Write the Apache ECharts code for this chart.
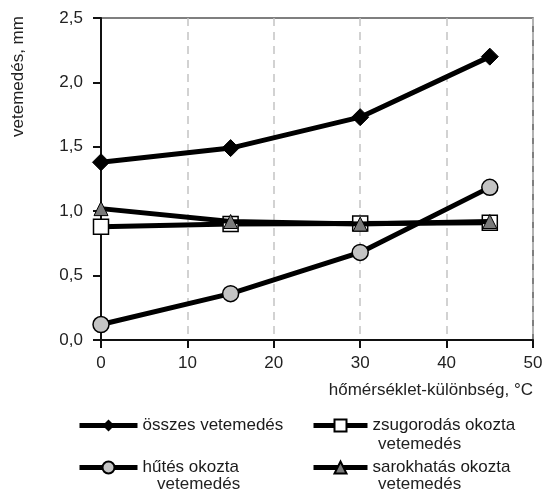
<!DOCTYPE html>
<html><head><meta charset="utf-8">
<script src="https://cdn.jsdelivr.net/npm/echarts@6/dist/echarts.min.js"></script>
<style>html,body{margin:0;padding:0;background:#fff}#c{width:554px;height:492px}</style>
</head><body><div id="c"></div>
<script>
const xValues = [0, 15, 30, 45];
const osszes = [1.38, 1.49, 1.73, 2.20];
const zsugorodas = [0.88, 0.90, 0.905, 0.91];
const hutes = [0.12, 0.36, 0.68, 1.185];
const sarok = [1.02, 0.92, 0.90, 0.92];
const yTicks = [0, 0.5, 1.0, 1.5, 2.0, 2.5];
const xTicks = [0, 10, 20, 30, 40, 50];
const seriesNames = ['összes vetemedés', 'zsugorodás okozta vetemedés', 'hűtés okozta vetemedés', 'sarokhatás okozta vetemedés'];

const FONT = 'Liberation Sans, Arial, sans-serif';
const FS = 17;
const pairs = arr => xValues.map((x, i) => [x, arr[i]]);
const chart = echarts.init(document.getElementById('c'));
const legendBase = {
  orient: 'vertical', padding: 0, itemWidth: 58, itemHeight: 15,
  lineStyle: { width: 5 },
  textStyle: { fontSize: FS, fontFamily: FONT, color: '#1a1a1a' },
  formatter: n => n.replace(' vetemedés', '').replace('összes', 'összes vetemedés')
};
chart.setOption({
  animation: false,
  backgroundColor: '#fff',
  grid: { left: 101, right: 21, top: 18, bottom: 152, show: true, borderColor: '#555', borderWidth: 1.5 },
  xAxis: {
    type: 'value', min: xTicks[0], max: xTicks[xTicks.length - 1], interval: 10,
    axisLine: { lineStyle: { color: '#111', width: 2 } },
    axisTick: { length: 8, lineStyle: { color: '#111', width: 2 } },
    axisLabel: { fontSize: FS, fontFamily: FONT, color: '#222', margin: 15 },
    splitLine: { show: true, lineStyle: { color: '#c4c4c4', type: [8, 6], width: 1.5 } }
  },
  yAxis: {
    type: 'value', min: yTicks[0], max: yTicks[yTicks.length - 1], interval: 0.5,
    axisLine: { show: true, lineStyle: { color: '#111', width: 2 } },
    axisTick: { show: true, length: 8, lineStyle: { color: '#111', width: 2 } },
    axisLabel: { fontSize: FS, fontFamily: FONT, color: '#222', margin: 18,
      formatter: v => v.toFixed(1).replace('.', ',') },
    splitLine: { show: false }
  },
  legend: [
    Object.assign({}, legendBase, { left: 77, top: 417, data: [seriesNames[0]] }),
    Object.assign({}, legendBase, { left: 311, top: 417, itemWidth: 54, data: [seriesNames[1]] }),
    Object.assign({}, legendBase, { left: 77, top: 459, data: [seriesNames[2]] }),
    Object.assign({}, legendBase, { left: 311, top: 459, itemWidth: 54, data: [seriesNames[3]] })
  ],
  graphic: [
    { type: 'text', rotation: Math.PI / 2, x: 10, y: 137, style: { text: 'vetemedés, mm', fontSize: FS, fontFamily: FONT, fill: '#222' } },
    { type: 'text', right: 21, top: 382, style: { text: 'hőmérséklet-különbség, °C', fontSize: FS, fontFamily: FONT, fill: '#222' } },
    { type: 'text', left: 378, top: 436, style: { text: 'vetemedés', fontSize: FS, fontFamily: FONT, fill: '#222' } },
    { type: 'text', left: 157, top: 476, style: { text: 'vetemedés', fontSize: FS, fontFamily: FONT, fill: '#222' } },
    { type: 'text', left: 378, top: 476, style: { text: 'vetemedés', fontSize: FS, fontFamily: FONT, fill: '#222' } }
  ],
  series: [
    { name: seriesNames[0], type: 'line', data: pairs(osszes), symbol: 'diamond', symbolSize: 17,
      lineStyle: { color: '#000', width: 5 }, itemStyle: { color: '#000', borderColor: '#000' }, z: 5 },
    { name: seriesNames[1], type: 'line', data: pairs(zsugorodas), symbol: 'rect', symbolSize: 15,
      lineStyle: { color: '#000', width: 5 }, itemStyle: { color: '#fff', borderColor: '#000', borderWidth: 1.5 }, z: 3 },
    { name: seriesNames[2], type: 'line', data: pairs(hutes), symbol: 'circle', symbolSize: 16,
      lineStyle: { color: '#000', width: 5 }, itemStyle: { color: '#c4c4c4', borderColor: '#000', borderWidth: 1.5 }, z: 4 },
    { name: seriesNames[3], type: 'line', data: pairs(sarok), symbol: 'triangle', symbolSize: 14,
      lineStyle: { color: '#000', width: 5 }, itemStyle: { color: '#7a7a7a', borderColor: '#000', borderWidth: 1 }, z: 6 }
  ]
});
</script></body></html>
